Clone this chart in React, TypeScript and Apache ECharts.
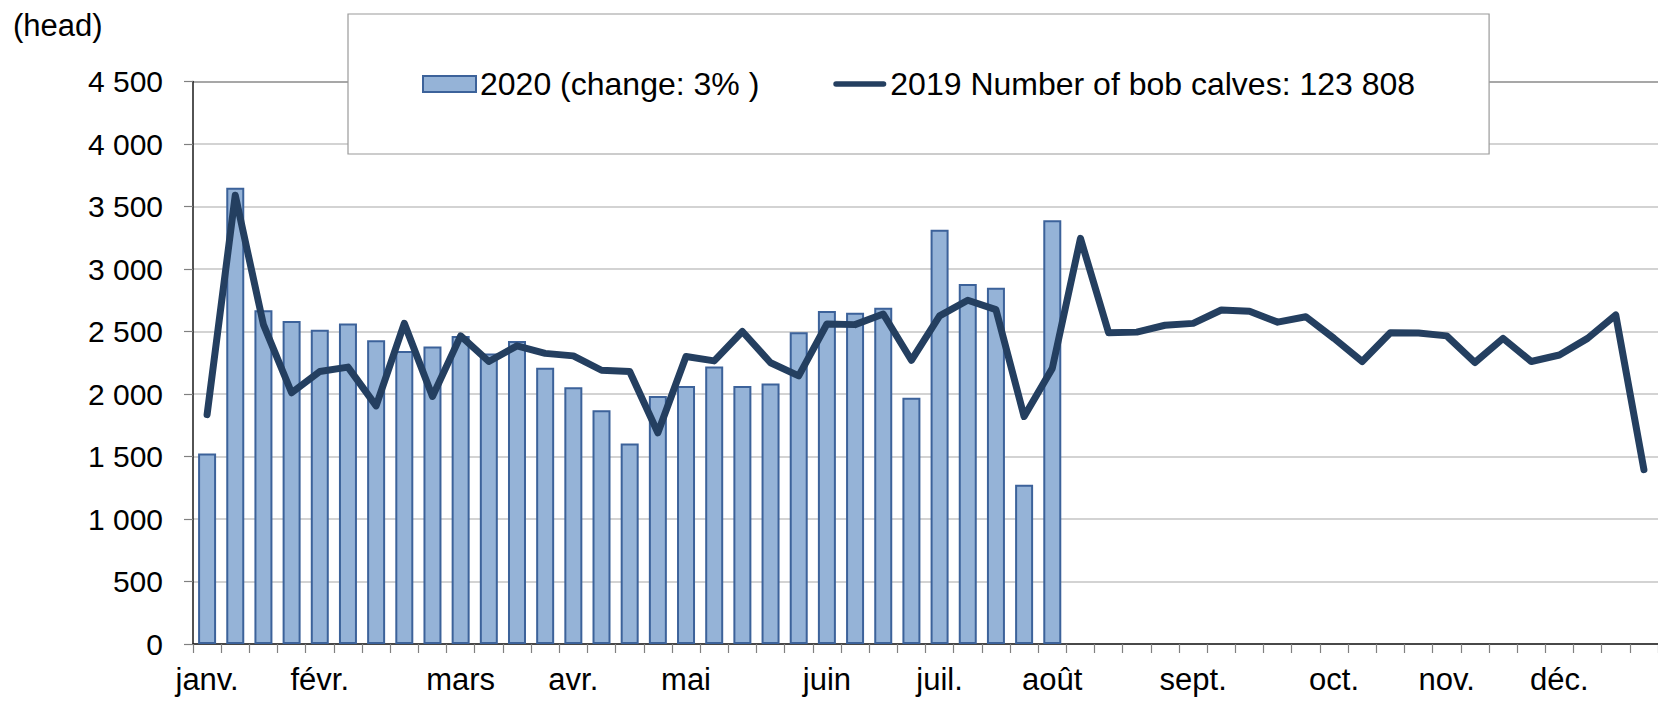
import React, { useEffect, useRef } from "react";
import * as echarts from "echarts";

const weeks: string[] = Array.from({ length: 52 }, (_, i) => `S${i + 1}`);

const monthLabels = ["janv.", "févr.", "mars", "avr.", "mai", "juin", "juil.", "août", "sept.", "oct.", "nov.", "déc."];
const monthWeekIndex = [0, 4, 9, 13, 17, 22, 26, 30, 35, 40, 44, 48];

const yTicks = { min: 0, max: 4500, interval: 500 };

const bars2020 = [
  1525, 3650, 2670, 2585, 2515, 2565, 2430, 2345, 2380, 2465,
  2325, 2425, 2210, 2055, 1870, 1605, 1985, 2065, 2220, 2065,
  2085, 2495, 2665, 2650, 2690, 1970, 3315, 2880, 2850, 1275,
  3390,
];

const line2019 = [
  1835, 3590, 2555, 2010, 2180, 2215, 1905, 2565, 1980, 2465,
  2260, 2385, 2325, 2305, 2190, 2180, 1690, 2300, 2265, 2500,
  2250, 2145, 2560, 2555, 2640, 2270, 2625, 2750, 2675, 1820,
  2205, 3245, 2490, 2495, 2550, 2565, 2672, 2662, 2575, 2618,
  2445, 2260, 2490, 2488, 2465, 2252, 2445, 2260, 2312, 2445,
  2632, 1395,
];

const barName = "2020 (change: 3% )";
const lineName = "2019 Number of bob calves: 123 808";

const FONT = "'Liberation Sans', Arial, sans-serif";
const BAR_FILL = "#95b3d7";
const BAR_BORDER = "#3c629a";
const LINE_COLOR = "#243f60";

function fmt(v: number): string {
  if (v >= 1000) {
    const th = Math.floor(v / 1000);
    const rest = String(v % 1000).padStart(3, "0");
    return `${th} ${rest}`;
  }
  return String(v);
}

export default function App() {
  const ref = useRef<HTMLDivElement>(null);
  useEffect(() => {
    if (!ref.current) return;
    const chart = echarts.init(ref.current, undefined, { renderer: "svg" });
    const gridColors = ["#c4c4c4", "#c4c4c4", "#c4c4c4", "#c4c4c4", "#c4c4c4", "#c4c4c4", "#c4c4c4", "#c4c4c4", "#c4c4c4", "#8a8a8a"];
    chart.setOption({
      animation: false,
      backgroundColor: "#ffffff",
      textStyle: { fontFamily: FONT },
      grid: { left: 193, right: -8, top: 81.5, bottom: 57, containLabel: false },
      graphic: [
        {
          type: "text",
          left: 13,
          top: 10,
          style: { text: "(head)", fontSize: 31, fontFamily: FONT, fill: "#000" },
          z: 10,
        },
      ],
      legend: {
        left: 348,
        top: 14,
        padding: [54, 74],
        itemGap: 74,
        itemWidth: 53,
        itemHeight: 16,
        selectedMode: false,
        backgroundColor: "#ffffff",
        borderColor: "#9a9a9a",
        borderWidth: 1.2,
        textStyle: { fontSize: 32, color: "#000", fontFamily: FONT, padding: [0, 0, 0, -1] },
        data: [
          {
            name: barName,
            icon: "rect",
            itemStyle: { color: BAR_FILL, borderColor: BAR_BORDER, borderWidth: 2 },
          },
          {
            name: lineName,
            icon: "path://M3,0 L55,0 A3,3 0 0 1 55,6 L3,6 A3,3 0 0 1 3,0 Z",
            itemStyle: { color: LINE_COLOR, borderWidth: 0 },
          },
        ],
        z: 10,
      },
      xAxis: {
        type: "category",
        data: weeks,
        boundaryGap: true,
        axisLine: { show: true, lineStyle: { color: "#1a1a1a", width: 1.5 } },
        axisTick: { show: true, interval: 0, length: 9, lineStyle: { color: "#808080", width: 1.2 } },
        axisLabel: {
          interval: 0,
          margin: 20,
          fontSize: 31,
          color: "#000",
          fontFamily: FONT,
          formatter: (_v: string, idx: number) => {
            const k = monthWeekIndex.indexOf(idx);
            return k >= 0 ? monthLabels[k] : "";
          },
        },
        splitLine: { show: false },
      },
      yAxis: {
        type: "value",
        min: yTicks.min,
        max: yTicks.max,
        interval: yTicks.interval,
        axisLine: { show: true, lineStyle: { color: "#1a1a1a", width: 1.5 } },
        axisTick: { show: true, length: 9, lineStyle: { color: "#808080", width: 1.2 } },
        axisLabel: {
          margin: 30,
          fontSize: 30,
          color: "#000",
          fontFamily: FONT,
          formatter: (v: number) => fmt(v),
        },
        splitLine: { show: true, lineStyle: { color: gridColors, width: 1.6 } },
      },
      series: [
        {
          name: barName,
          type: "bar",
          data: bars2020,
          barWidth: 18,
          itemStyle: { color: BAR_FILL, borderColor: BAR_BORDER, borderWidth: 2 },
          z: 2,
        },
        {
          name: lineName,
          type: "line",
          data: line2019,
          symbol: "none",
          showSymbol: false,
          lineStyle: { color: LINE_COLOR, width: 7, cap: "round", join: "round" },
          itemStyle: { color: LINE_COLOR },
          z: 3,
        },
      ],
    });
    return () => chart.dispose();
  }, []);
  return (
    <div
      ref={ref}
      style={{ position: "absolute", left: 0, top: 0, width: 1658, height: 701 }}
    />
  );
}
